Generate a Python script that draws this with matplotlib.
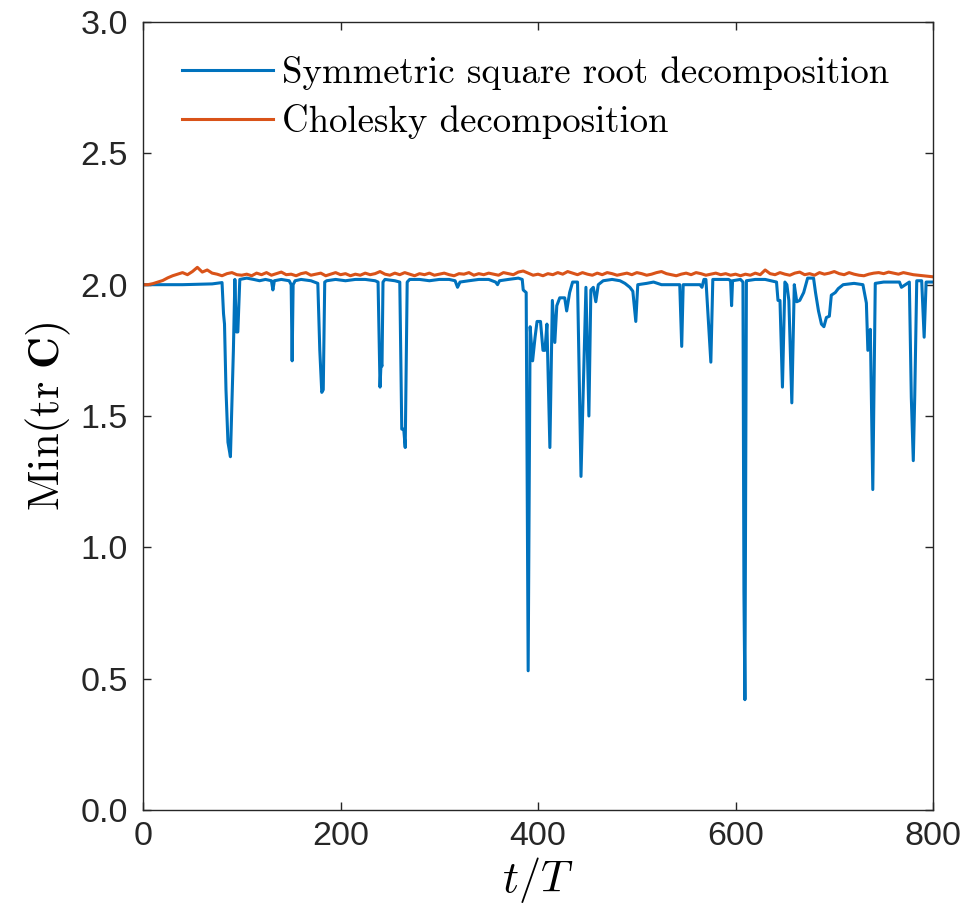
import numpy as np
import matplotlib
matplotlib.use("Agg")
import matplotlib.pyplot as plt

plt.rcParams["mathtext.fontset"] = "cm"
plt.rcParams["font.family"] = "Liberation Sans"

# Symmetric square root decomposition: key points (t/T, min tr C)
sym_t = [0, 40, 70, 80, 81.5, 82.5, 84, 86, 88.5, 91.5, 93, 94.5, 96, 98,
         105, 112, 118, 124, 130, 131.5, 133, 140, 148, 150, 151, 152, 154,
         160, 170, 177, 179, 181, 182.5, 184, 186, 195, 205, 215, 225, 235,
         238, 240, 241, 242, 243, 245, 255, 260, 262, 264, 265.5, 267.5, 270,
         280, 290, 300, 310, 316, 318.5, 321, 330, 340, 350, 357, 359, 361,
         370, 380, 384, 385, 388, 390, 392, 394.5, 397, 399, 402.5, 405, 407,
         409, 412, 414.5, 417, 419, 422, 427, 429, 432, 435, 440, 443.5,
         448.5, 451.5, 453.5, 456, 458.5, 461, 466, 475, 483, 488, 493, 496,
         499, 501, 510, 517, 525, 535, 543.5, 545.5, 547, 555, 564, 566, 568,
         570, 575, 577, 585, 593, 595, 596, 597, 605, 607.5, 608.5, 609.5,
         611, 620, 630, 641.5, 643, 645, 647.5, 650, 652, 654, 657, 659.5,
         662, 665, 669, 673, 679, 681, 684, 687, 689.5, 692, 695, 697, 701,
         704, 709, 720, 729, 732.5, 734, 736.5, 739, 741.5, 750, 760, 766,
         768, 772, 776, 778, 780, 781.5, 783.5, 788.5, 791, 793, 800]
sym_c = [2.0, 2.0, 2.003, 2.008, 1.89, 1.85, 1.60, 1.40, 1.345, 1.75, 2.02,
         1.82, 1.82, 2.02,
         2.025, 2.02, 2.015, 2.02, 2.015, 1.98, 2.015, 2.02, 2.015, 2.0, 1.71,
         2.0, 2.015,
         2.02, 2.015, 2.005, 1.75, 1.59, 1.60, 2.01, 2.015, 2.02, 2.015, 2.02,
         2.02, 2.015,
         2.01, 1.61, 1.70, 1.69, 2.01, 2.02, 2.015, 2.01, 1.45, 1.45, 1.38,
         2.01, 2.02,
         2.02, 2.015, 2.02, 2.02, 2.015, 1.99, 2.01, 2.015, 2.02, 2.02, 2.01,
         2.0, 2.015,
         2.02, 2.025, 2.02, 1.98, 1.97, 0.53, 1.84, 1.71, 1.80, 1.86, 1.86,
         1.75, 1.75,
         1.85, 1.38, 1.94, 1.78, 1.92, 1.95, 1.95, 1.90, 1.97, 2.01, 2.01,
         1.27,
         1.99, 1.50, 1.98, 1.99, 1.935, 2.0, 2.015, 2.02, 2.015, 2.005, 1.99,
         1.975,
         1.86, 2.0, 2.005, 2.01, 2.0, 2.0, 2.0, 1.765, 2.0, 2.0, 2.0, 1.99,
         2.02,
         2.02, 1.705, 2.02, 2.02, 2.02, 2.015, 1.92, 2.015, 2.02, 2.01, 0.83,
         0.42,
         2.015, 2.02, 2.02, 2.01, 1.94, 1.94, 1.61, 2.01, 2.0, 1.94, 1.55,
         2.0,
         1.935, 1.94, 1.97, 2.025, 2.025, 1.97, 1.90, 1.85, 1.84, 1.875, 1.88,
         1.96, 1.97,
         1.985, 2.0, 2.005, 2.0, 1.93, 1.75, 1.83, 1.22, 2.005, 2.01, 2.01,
         2.01,
         1.99, 2.0, 2.01, 1.57, 1.33, 1.58, 2.015, 2.015, 1.80, 2.01, 2.01]

# Cholesky decomposition: sampled every 5 t/T
chol_t = np.arange(0, 801, 5)
chol_c = [2.000, 2.000, 2.004, 2.010, 2.016, 2.026, 2.034, 2.040, 2.046, 2.038,
          2.050, 2.066, 2.048, 2.056, 2.044, 2.040, 2.034, 2.042, 2.046, 2.038,
          2.036,
          2.040, 2.034, 2.044, 2.038, 2.046, 2.036, 2.042, 2.048, 2.038, 2.040,
          2.034, 2.042, 2.046, 2.036, 2.040, 2.044, 2.034, 2.040, 2.046, 2.038,
          2.042, 2.034, 2.040, 2.036, 2.044, 2.038, 2.042, 2.050, 2.040, 2.036,
          2.044, 2.038, 2.046, 2.040, 2.034, 2.042, 2.038, 2.044, 2.036, 2.040,
          2.044, 2.038, 2.034, 2.042, 2.040, 2.046, 2.036, 2.042, 2.038, 2.044,
          2.040, 2.036, 2.046, 2.042, 2.038, 2.048, 2.052, 2.044, 2.036, 2.040,
          2.034, 2.042, 2.038, 2.046, 2.040, 2.050, 2.044, 2.038, 2.046, 2.040,
          2.036, 2.044, 2.038, 2.046, 2.042, 2.036, 2.040, 2.044, 2.038, 2.046,
          2.042, 2.036, 2.040, 2.046, 2.050, 2.042, 2.038, 2.034, 2.040, 2.044,
          2.038, 2.046, 2.042, 2.036, 2.040, 2.044, 2.038, 2.042, 2.036, 2.040,
          2.034, 2.040, 2.036, 2.044, 2.038, 2.056, 2.042, 2.038, 2.046, 2.040,
          2.036, 2.044, 2.048, 2.038, 2.042, 2.036, 2.046, 2.040, 2.044, 2.050,
          2.042, 2.038, 2.046, 2.040, 2.036, 2.034, 2.040, 2.044, 2.046, 2.042,
          2.048, 2.044, 2.040, 2.046, 2.042, 2.038, 2.036, 2.034, 2.032, 2.030]

x_ticks = [0, 200, 400, 600, 800]
y_ticks = [0.0, 0.5, 1.0, 1.5, 2.0, 2.5, 3.0]
labels = ["Symmetric square root decomposition", "Cholesky decomposition"]

fig = plt.figure(figsize=(9.77, 9.14), dpi=100)
ax = fig.add_axes([0.1464, 0.1138, 0.8086, 0.8621])

ax.plot(sym_t, sym_c, color="#0072BD", lw=2.2, label=labels[0])
ax.plot(chol_t, chol_c, color="#D95319", lw=2.2, label=labels[1])

ax.set_xlim(0, 800)
ax.set_ylim(0, 3)
ax.set_xticks(x_ticks)
ax.set_yticks(y_ticks)
ax.set_yticklabels([f"{v:.1f}" for v in y_ticks])
ax.tick_params(direction="in", length=5.5, width=1, top=True, right=True,
               labelsize=24.5, colors="#262626")
ax.tick_params(axis="y", pad=11)
ax.tick_params(axis="x", pad=8)
for s in ax.spines.values():
    s.set_color("#262626")
    s.set_linewidth(1)

ax.set_xlabel(r"$t/T$", fontsize=32, labelpad=2)
ax.set_ylabel(r"$\mathrm{Min}(\mathrm{tr}\ \mathbf{C})$", fontsize=32, labelpad=5)

leg = ax.legend(loc="upper left", bbox_to_anchor=(0.049, 0.957), frameon=False,
                prop={"family": "cmr10", "size": 26.5}, handlelength=2.47,
                handletextpad=0.25, labelspacing=0.39, borderpad=0,
                borderaxespad=0)

fig.savefig("out.png", dpi=100)
